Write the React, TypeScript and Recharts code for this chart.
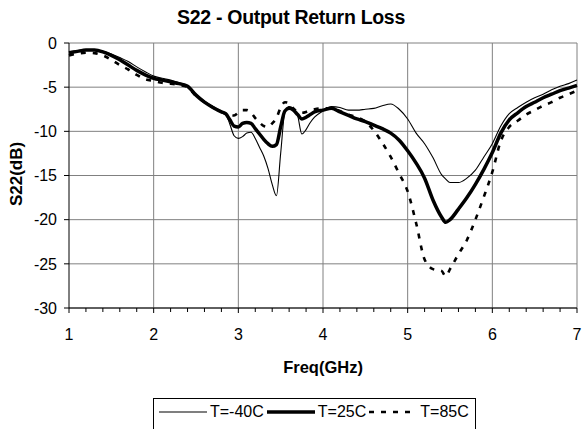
import { LineChart, Line, XAxis, YAxis, CartesianGrid, ReferenceLine } from "recharts";

// frequency points (GHz)
const freq = [
  1.0, 1.1, 1.2, 1.3, 1.4, 1.5, 1.6, 1.7, 1.8, 1.9, 2.0, 2.1, 2.2, 2.3, 2.4, 2.5, 2.6, 2.7, 2.8, 2.85,
  2.9, 2.95, 3.0, 3.05, 3.1, 3.15, 3.2, 3.25, 3.3, 3.35, 3.4, 3.45, 3.5, 3.55, 3.6, 3.65, 3.7, 3.75,
  3.8, 3.85, 3.9, 4.0, 4.1, 4.2, 4.3, 4.4, 4.5, 4.6, 4.7, 4.8, 4.9, 5.0, 5.1, 5.2, 5.3, 5.4, 5.45,
  5.5, 5.6, 5.7, 5.8, 5.9, 6.0, 6.1, 6.2, 6.3, 6.4, 6.5, 6.6, 6.7, 6.8, 6.9, 7.0,
];

// S22 (dB) at T=-40C
const s22Cold = [
  -1.0, -0.85, -0.75, -0.75, -0.95, -1.25, -1.65, -2.1, -2.7, -3.25, -3.75, -4.0, -4.2, -4.5, -4.8,
  -5.8, -6.6, -7.2, -7.7, -8.0, -9.2, -10.5, -10.8, -10.6, -10.2, -10.1, -10.8, -11.8, -12.8, -14.2,
  -16.0, -17.3, -12.5, -7.8, -7.2, -7.4, -8.2, -10.3, -9.8, -9.0, -8.4, -7.7, -7.2, -7.3, -7.6, -7.6,
  -7.5, -7.4, -7.1, -6.9, -7.5, -8.6, -10.2, -11.4, -13.0, -14.9, -15.4, -15.8, -15.8, -15.3, -14.4,
  -12.9, -11.4, -9.4, -8.0, -7.3, -6.7, -6.2, -5.8, -5.3, -4.9, -4.6, -4.2,
];

// S22 (dB) at T=25C
const s22Room = [
  -1.1, -0.95, -0.8, -0.8, -1.0, -1.4, -1.9, -2.5, -3.1, -3.6, -4.0, -4.2, -4.4, -4.6, -4.9, -5.9,
  -6.7, -7.3, -7.8, -8.0, -8.7, -9.4, -9.5, -9.1, -9.0, -9.1, -9.7, -10.3, -10.9, -11.4, -11.7, -11.5,
  -9.5, -7.7, -7.4, -7.6, -8.1, -8.6, -8.4, -8.1, -7.8, -7.6, -7.4, -7.8, -8.2, -8.6, -8.9, -9.3,
  -9.7, -10.2, -11.0, -12.2, -13.6, -15.3, -17.8, -19.7, -20.3, -20.0, -18.8, -17.5, -16.0, -14.3,
  -12.4, -10.2, -8.7, -7.9, -7.2, -6.7, -6.2, -5.8, -5.4, -5.1, -4.8,
];

// S22 (dB) at T=85C
const s22Hot = [
  -1.4, -1.2, -1.1, -1.15, -1.4, -1.9, -2.5, -3.0, -3.6, -4.1, -4.3, -4.5, -4.6, -4.75, -5.0, -6.0,
  -6.7, -7.3, -7.8, -8.0, -8.1, -8.2, -7.9, -7.6, -7.6, -7.9, -8.5, -9.0, -9.4, -9.5, -9.1, -8.5,
  -7.3, -6.7, -6.8, -7.4, -7.8, -7.9, -7.8, -7.6, -7.5, -7.4, -7.4, -7.7, -8.1, -8.4, -8.9, -9.9,
  -11.3, -12.9, -14.8, -16.8, -20.4, -24.5, -25.6, -25.8, -26.4, -25.6, -23.9, -22.3, -20.0, -17.4,
  -14.6, -11.1, -9.5, -8.8, -8.1, -7.6, -7.1, -6.7, -6.2, -5.8, -5.4,
];

const yTicks = [0, -5, -10, -15, -20, -25, -30];
const majorTicks = [1, 2, 3, 4, 5, 6, 7];
const minorTicks = [
  1, 1.2, 1.4, 1.6, 1.8, 2, 2.2, 2.4, 2.6, 2.8, 3, 3.2, 3.4, 3.6, 3.8, 4, 4.2, 4.4, 4.6, 4.8, 5,
  5.2, 5.4, 5.6, 5.8, 6, 6.2, 6.4, 6.6, 6.8, 7,
];

const series = [
  { key: "cold", name: "T=-40C", width: 1.1, dash: undefined },
  { key: "room", name: "T=25C", width: 3.5, dash: undefined },
  { key: "hot", name: "T=85C", width: 2.6, dash: "5 7" },
];

const data = freq.map((f, i) => ({ freq: f, cold: s22Cold[i], room: s22Room[i], hot: s22Hot[i] }));

const font = "'Liberation Sans', Arial, sans-serif";

const FreqTick = (props: any) => {
  const { x, y, payload } = props;
  const v = payload.value;
  const isMajor = majorTicks.some((m) => Math.abs(m - v) < 1e-6);
  return (
    <g>
      <line x1={x} x2={x} y1={y} y2={y + (isMajor ? 5 : 4)} stroke="#000" strokeWidth={1} />
      {isMajor && (
        <text x={x} y={y + 26} textAnchor="middle" dominantBaseline="central" fontSize={16} fontFamily={font} fill="#000">
          {Math.round(v)}
        </text>
      )}
    </g>
  );
};

export default function App() {
  return (
    <div
      style={{
        position: "absolute",
        left: 0,
        top: 0,
        width: 582,
        height: 429,
        background: "#fff",
        fontFamily: font,
        overflow: "hidden",
      }}
    >
      <LineChart width={582} height={429} data={data} margin={{ top: 43, right: 5, bottom: 91, left: 0 }}>
        <CartesianGrid vertical={false} stroke="#808080" strokeWidth={1} />
        {majorTicks.slice(1).map((t) => (
          <ReferenceLine key={t} x={t} stroke="#808080" strokeWidth={1} />
        ))}
        <XAxis
          dataKey="freq"
          type="number"
          domain={[1, 7]}
          ticks={minorTicks}
          interval={0}
          tickLine={false}
          tickSize={0}
          tickMargin={0}
          height={30}
          axisLine={{ stroke: "#000" }}
          tick={<FreqTick />}
        />
        <YAxis
          type="number"
          domain={[-30, 0]}
          ticks={yTicks}
          interval={0}
          width={69}
          tickSize={5}
          tickMargin={7}
          axisLine={{ stroke: "#000" }}
          tickLine={{ stroke: "#000" }}
          tick={{ fill: "#000", fontSize: 16, fontFamily: font }}
        />
        {series.map((s) => (
          <Line
            key={s.key}
            dataKey={s.key}
            name={s.name}
            type="monotone"
            stroke="#000"
            strokeWidth={s.width}
            strokeDasharray={s.dash}
            dot={false}
            activeDot={false}
            isAnimationActive={false}
          />
        ))}
      </LineChart>

      <div
        style={{
          position: "absolute",
          top: 7,
          left: 0,
          width: 582,
          textAlign: "center",
          fontSize: 19.5,
          lineHeight: "20px",
          fontWeight: "bold",
          letterSpacing: -0.3,
        }}
      >
        S22 - Output Return Loss
      </div>

      <div
        style={{
          position: "absolute",
          top: 357,
          left: 69,
          width: 508,
          textAlign: "center",
          fontSize: 16.5,
          lineHeight: "20px",
          fontWeight: "bold",
        }}
      >
        Freq(GHz)
      </div>

      <div
        style={{
          position: "absolute",
          left: 17,
          top: 174,
          transform: "translate(-50%, -50%) rotate(-90deg)",
          whiteSpace: "nowrap",
          fontSize: 17,
          lineHeight: "20px",
          fontWeight: "bold",
        }}
      >
        S22(dB)
      </div>

      <div
        style={{
          position: "absolute",
          left: 153,
          top: 398,
          width: 323,
          height: 40,
          border: "1px solid #000",
          display: "flex",
          alignItems: "flex-start",
          paddingLeft: 5,
          paddingTop: 3,
          boxSizing: "border-box",
          fontSize: 16,
          lineHeight: "20px",
        }}
      >
        {series.map((s) => (
          <div key={s.key} style={{ display: "flex", alignItems: "center", marginRight: 3 }}>
            <svg width={48} height={20}>
              <line x1={0} x2={48} y1={10} y2={10} stroke="#000" strokeWidth={s.width} strokeDasharray={s.dash} />
            </svg>
            <span style={{ marginLeft: 3, whiteSpace: "nowrap" }}>{s.name}</span>
          </div>
        ))}
      </div>
    </div>
  );
}
